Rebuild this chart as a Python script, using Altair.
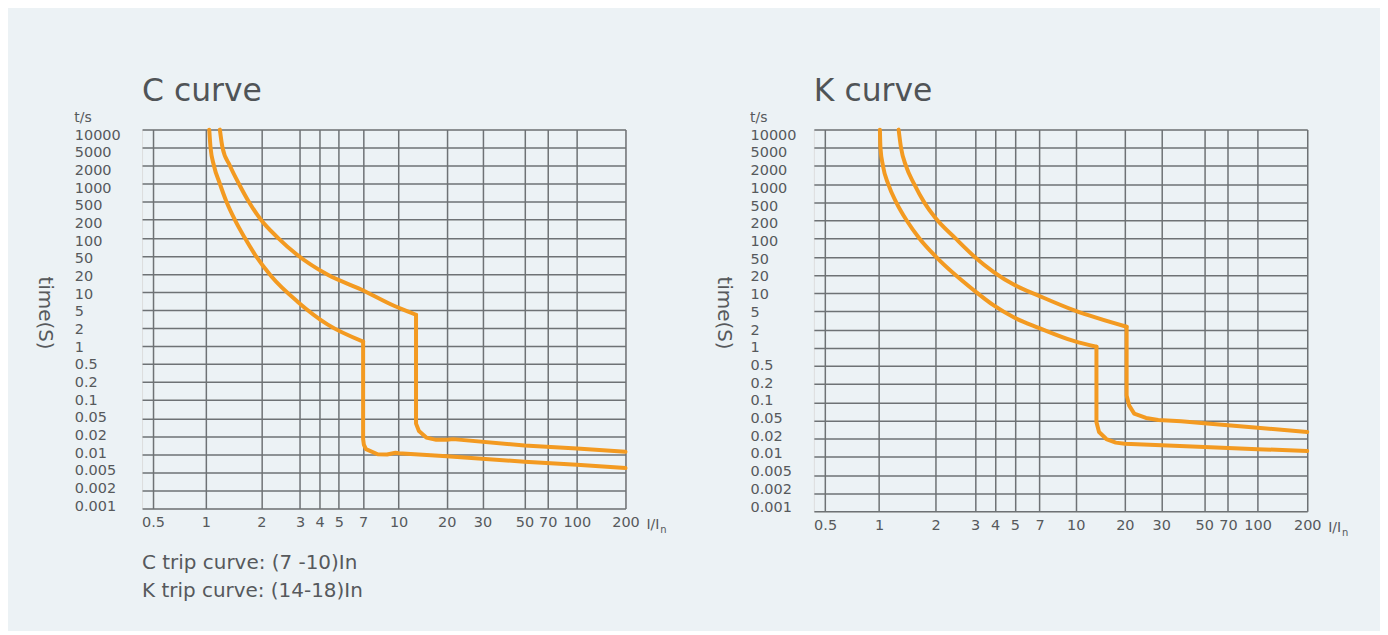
import altair as alt
import pandas as pd

# ---------------- data ----------------
X_TICKS = [0.5, 1, 2, 3, 4, 5, 7, 10, 20, 30, 50, 70, 100, 200]
Y_TICKS = [0.001, 0.002, 0.005, 0.01, 0.02, 0.05, 0.1, 0.2, 0.5, 1, 2, 5,
           10, 20, 50, 100, 200, 500, 1000, 2000, 5000, 10000]

PANEL_TITLES = ["C curve", "K curve"]
TRIP_NOTES = ["C trip curve: (7 -10)In", "K trip curve: (14-18)In"]
Y_UNIT = "t/s"
Y_TITLE = "time(S)"
X_UNIT = "I/I"
X_UNIT_SUB = "n"

# C curve - lower band (thermal bend, then magnetic drop + tail)
C_LOW_BEND_X = [1.042, 1.059, 1.105, 1.19, 1.293, 1.436, 1.626, 1.843, 2.22, 2.94, 4.40, 7.0]
C_LOW_BEND_T = [10000, 5000, 2000, 1000, 500, 200, 100, 53.1, 18.3, 6.76, 2.38, 1.19]
C_LOW_TAIL_X = [7.0, 7.0, 7.05, 7.2, 8.1, 8.9, 9.7, 10, 20, 50, 100, 200]
C_LOW_TAIL_T = [1.19, 0.018, 0.0145, 0.0122, 0.0100, 0.0099, 0.0106, 0.0104, 0.0093, 0.0075, 0.0067, 0.0059]
# C curve - upper band
C_HIGH_BEND_X = [1.19, 1.23, 1.35, 1.51, 1.71, 1.99, 2.38, 2.89, 4.40, 6.81, 9.6, 11.7, 12.85]
C_HIGH_BEND_T = [10000, 5000, 2000, 1000, 500, 200, 100, 53.1, 19.3, 11.0, 5.82, 4.5, 3.92]
C_HIGH_TAIL_X = [12.85, 12.85, 13.4, 14.9, 17.2, 20, 21.5, 50, 100, 200]
C_HIGH_TAIL_T = [3.92, 0.038, 0.026, 0.019, 0.0174, 0.0175, 0.0179, 0.014, 0.0125, 0.011]

# K curve - lower band
K_LOW_BEND_X = [1.01, 1.017, 1.049, 1.119, 1.234, 1.403, 1.645, 2.01, 2.98, 3.93, 4.94, 6.91, 9.87, 13.4]
K_LOW_BEND_T = [10000, 5000, 2000, 1000, 500, 200, 100, 50, 11, 6.27, 3.71, 2.19, 1.284, 1.038]
K_LOW_TAIL_X = [13.4, 13.4, 13.9, 15.4, 17.6, 20, 50, 100, 200]
K_LOW_TAIL_T = [1.038, 0.046, 0.028, 0.0197, 0.0172, 0.0165, 0.0146, 0.0134, 0.0125]
# K curve - upper band
K_HIGH_BEND_X = [1.271, 1.309, 1.391, 1.539, 1.740, 1.983, 2.46, 2.98, 3.93, 4.94, 6.91, 9.87, 20.4]
K_HIGH_BEND_T = [10000, 5000, 2000, 1000, 500, 235, 100, 50.4, 23.3, 13.9, 9.14, 5.19, 2.31]
K_HIGH_TAIL_X = [20.4, 20.4, 21.0, 22.2, 25.3, 29, 38, 50, 100, 200]
K_HIGH_TAIL_T = [2.31, 0.13, 0.088, 0.065, 0.055, 0.051, 0.048, 0.0437, 0.0346, 0.028]

# ---------------- style ----------------
FONT = "DejaVu Sans"
BG = "#ECF2F5"
GRID = "#6E7275"
ORANGE = "#F39A21"
TXT = "#56595C"
# relative horizontal position of each x tick inside the panel (non-uniform print grid)
X_FRAC = [0.0228, 0.1322, 0.2467, 0.3268, 0.3671, 0.4072, 0.4573, 0.5307, 0.6303,
          0.7042, 0.7912, 0.8392, 0.8995, 1.0]


def frame(items):
    rows = []
    for name, xs, ts in items:
        for i, (x, t) in enumerate(zip(xs, ts)):
            rows.append({"curve": name, "x": x, "t": t, "i": i})
    return pd.DataFrame(rows)


def text_layer(txt, x, y, size, align="left", baseline="alphabetic", angle=0, color=TXT):
    kw = dict(align=align, baseline=baseline, fontSize=size, color=color, font=FONT)
    if angle:
        kw["angle"] = angle
    return alt.Chart(pd.DataFrame({"s": [txt]})).mark_text(**kw).encode(
        x=alt.value(x), y=alt.value(y), text="s:N")


def panel(bends, tails, W, H, lab_pad, off0, offstep, ytitle_x, title, notes=None):
    xscale = alt.Scale(type="log", domain=[0.45] + X_TICKS,
                       range=[0] + [f * W for f in X_FRAC], nice=False)
    yscale = alt.Scale(type="log", domain=Y_TICKS,
                       range=[H - i * H / 21 for i in range(len(Y_TICKS))], nice=False)
    xaxis = alt.Axis(values=X_TICKS, grid=True, gridColor=GRID, gridWidth=1.5, ticks=False,
                     domain=False, title=None, labelFontSize=14.5, labelColor=TXT, labelFont=FONT,
                     labelPadding=7, labelOverlap=False, labelFlush=False,
                     labelExpr="'' + datum.value")
    yaxis = alt.Axis(values=Y_TICKS, grid=True, gridColor=GRID, gridWidth=1.5, ticks=False,
                     domain=False, title=None, labelFontSize=14.5, labelColor=TXT, labelFont=FONT,
                     labelAlign="left", labelBaseline="middle", labelPadding=lab_pad,
                     labelOverlap=False, labelFlush=False, labelExpr="'' + datum.value",
                     labelOffset={"expr": f"{off0} + {offstep}*(round(3*log(datum.value)/LN10) + 9)"})
    xenc = alt.X("x:Q", scale=xscale, axis=xaxis)
    yenc = alt.Y("t:Q", scale=yscale, axis=yaxis)
    style = dict(stroke=ORANGE, strokeWidth=4, strokeCap="round", strokeJoin="round")
    bend = alt.Chart(bends).mark_line(interpolate="monotone", **style).encode(
        x=xenc, y=yenc, detail="curve:N", order="i:Q")
    tail = alt.Chart(tails).mark_line(interpolate="linear", **style).encode(
        x=xenc, y=yenc, detail="curve:N", order="i:Q")
    layers = [
        bend, tail,
        text_layer(title, 0, -29, 31.5, color="#505457"),
        text_layer(Y_UNIT, -lab_pad, -7.5, 14),
        text_layer(Y_TITLE, ytitle_x, 184, 20, align="center", baseline="middle", angle=90),
        text_layer(X_UNIT, W + 21, H + 20.5, 14),
        text_layer(X_UNIT_SUB, W + 35, H + 24.5, 10),
    ]
    if notes:
        layers.append(text_layer(notes[0], 0, 441, 20))
        layers.append(text_layer(notes[1], 0, 469, 20))
    return alt.layer(*layers).properties(width=W, height=H)


c_bends = frame([("low", C_LOW_BEND_X, C_LOW_BEND_T), ("high", C_HIGH_BEND_X, C_HIGH_BEND_T)])
c_tails = frame([("low", C_LOW_TAIL_X, C_LOW_TAIL_T), ("high", C_HIGH_TAIL_X, C_HIGH_TAIL_T)])
k_bends = frame([("low", K_LOW_BEND_X, K_LOW_BEND_T), ("high", K_HIGH_BEND_X, K_HIGH_BEND_T)])
k_tails = frame([("low", K_LOW_TAIL_X, K_LOW_TAIL_T), ("high", K_HIGH_TAIL_X, K_HIGH_TAIL_T)])

c_panel = panel(c_bends, c_tails, 485, 380, 68, -2.3, 0.381, -97, PANEL_TITLES[0], TRIP_NOTES)
k_panel = panel(k_bends, k_tails, 495, 383, 64, -4.3, 0.476, -90, PANEL_TITLES[1])

chart = alt.hconcat(c_panel, k_panel, spacing=46).properties(
    background=BG,
    padding={"left": 26.5, "top": 66, "right": 31, "bottom": 28},
).configure_view(stroke=GRID, strokeWidth=1.5).configure(font=FONT)

chart.save("out.html", embed_options={"renderer": "svg", "actions": False})
